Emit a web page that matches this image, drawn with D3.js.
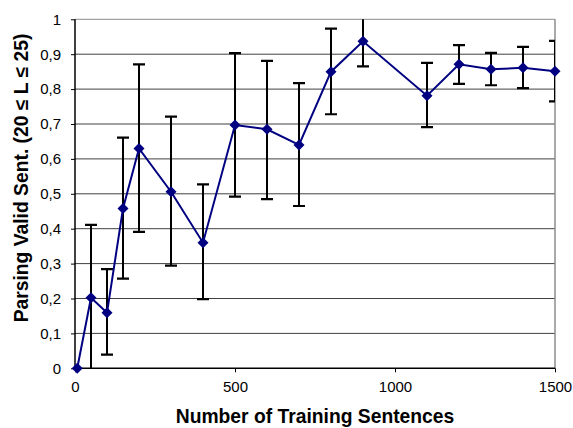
<!DOCTYPE html>
<html><head><meta charset="utf-8">
<script src="https://cdn.jsdelivr.net/npm/d3@7"></script>
<style>body{margin:0;background:#fff}</style>
</head><body>
<svg id="c" width="573" height="428"></svg>
<script>
const xVals = [7, 50, 100, 150, 200, 300, 400, 500, 600, 700, 800, 900, 1100, 1200, 1300, 1400, 1500];
const yVals = [0, 0.202, 0.159, 0.458, 0.630, 0.506, 0.360, 0.697, 0.685, 0.640, 0.850, 0.937, 0.781, 0.871, 0.857, 0.861, 0.851];
const errHigh = [0, 0.411, 0.284, 0.661, 0.871, 0.721, 0.527, 0.903, 0.881, 0.817, 0.973, 1.02, 0.875, 0.926, 0.904, 0.921, 0.938];
const errLow = [0, -0.02, 0.039, 0.257, 0.391, 0.294, 0.198, 0.492, 0.485, 0.465, 0.728, 0.865, 0.691, 0.815, 0.811, 0.803, 0.765];
const xTicks = [0, 500, 1000, 1500];
const yTicks = [0, 0.1, 0.2, 0.3, 0.4, 0.5, 0.6, 0.7, 0.8, 0.9, 1];
const xTitle = "Number of Training Sentences";
const yTitle = "Parsing Valid Sent. (20 \u2264 L \u2264 25)";

const svg = d3.select("#c");
const L = 75, R = 555, T = 19.3, B = 368.3;
const x = d3.scaleLinear().domain([0, 1500]).range([L, R]);
const y = d3.scaleLinear().domain([0, 1]).range([B, T]);
const fmt = d => d === 0 ? "0" : d === 1 ? "1" : d3.format(".1f")(d).replace(".", ",");
const FONT = "Arial, 'Liberation Sans', sans-serif";

svg.append("defs").append("clipPath").attr("id", "clip")
  .append("rect").attr("x", L).attr("y", T).attr("width", R - L).attr("height", B - T);

// gridlines
svg.append("g").selectAll("line").data(yTicks.filter(d => d > 0)).join("line")
  .attr("x1", L).attr("x2", R).attr("y1", d => y(d)).attr("y2", d => y(d))
  .attr("stroke", d => d === 1 ? "#8c8c8c" : "#404040").attr("stroke-width", 1);
// right border
svg.append("line").attr("x1", R).attr("x2", R).attr("y1", T).attr("y2", B)
  .attr("stroke", "#8c8c8c").attr("stroke-width", 1.5);

// axes
const yAxis = svg.append("g").attr("transform", `translate(${L},0)`)
  .call(d3.axisLeft(y).tickValues(yTicks).tickFormat(fmt).tickSize(4).tickPadding(10));
const xAxis = svg.append("g").attr("transform", `translate(0,${B})`)
  .call(d3.axisBottom(x).tickValues(xTicks).tickFormat(d3.format("d")).tickSize(4).tickPadding(9));
[yAxis, xAxis].forEach(a => {
  a.select(".domain").attr("stroke", "#000").attr("stroke-width", 1.5);
  a.selectAll(".tick line").attr("stroke", "#000");
  a.selectAll("text").attr("font-family", FONT).attr("font-size", 15).attr("fill", "#000");
});
yAxis.select(".domain").attr("d", `M0,${T}V${B}`);
xAxis.select(".domain").attr("d", `M${L},0H${R}`);

const g = svg.append("g").attr("clip-path", "url(#clip)");
const idx = d3.range(xVals.length);
// error bars
idx.filter(i => errHigh[i] !== errLow[i]).forEach(i => {
  const cx = x(xVals[i]);
  g.append("line").attr("x1", cx).attr("x2", cx).attr("y1", y(errLow[i])).attr("y2", y(errHigh[i]))
    .attr("stroke", "#000").attr("stroke-width", 2);
  [errLow[i], errHigh[i]].forEach(v => {
    g.append("line").attr("x1", cx - 6).attr("x2", cx + 6).attr("y1", y(v)).attr("y2", y(v))
      .attr("stroke", "#000").attr("stroke-width", 2.2);
  });
});

// line
svg.append("path").datum(idx)
  .attr("d", d3.line().x(i => x(xVals[i])).y(i => y(yVals[i])))
  .attr("fill", "none").attr("stroke", "#000080").attr("stroke-width", 2);

// markers
svg.append("g").selectAll("path").data(idx).join("path")
  .attr("transform", i => `translate(${x(xVals[i])},${y(yVals[i])})`)
  .attr("d", "M0,-5.5L5.5,0L0,5.5L-5.5,0Z").attr("fill", "#000080");

// titles
svg.append("text").attr("x", (L + R) / 2).attr("y", 423).attr("text-anchor", "middle")
  .attr("font-family", FONT).attr("font-weight", "bold")
  .attr("font-size", 19.3).text(xTitle);
svg.append("text").attr("transform", `translate(28,178) rotate(-90)`)
  .attr("text-anchor", "middle")
  .attr("font-family", FONT).attr("font-weight", "bold")
  .attr("font-size", 19.3).text(yTitle);
</script>
</body></html>
